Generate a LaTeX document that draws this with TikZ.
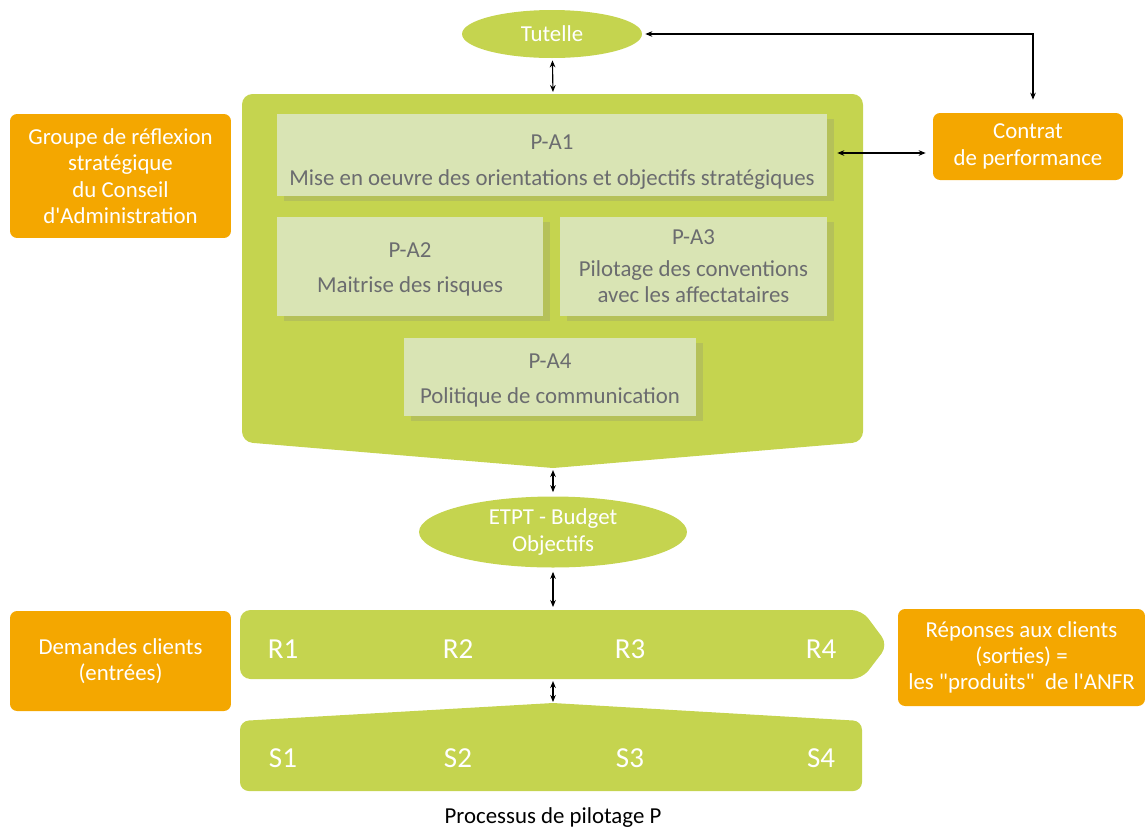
\documentclass[tikz,border=0pt]{standalone}
\usepackage{fontspec}
\setmainfont{Carlito}
\usetikzlibrary{arrows.meta,positioning,shapes.geometric,shadows}
\definecolor{leaf}{HTML}{C5D44F}
\definecolor{pale}{HTML}{D9E4B4}
\definecolor{amber}{HTML}{F4A700}
\definecolor{slate}{HTML}{6B6C6F}
\tikzset{
  oval/.style={ellipse, fill=leaf, text=white, align=center, inner sep=0pt},
  actbox/.style={fill=pale, text=slate, align=center, inner sep=0pt,
    drop shadow={shadow xshift=4pt, shadow yshift=-3pt, opacity=0.22}},
  sidebox/.style={fill=amber, text=white, align=center, rounded corners=4pt, inner sep=0pt},
  link/.style={{Stealth[length=4pt,width=3.2pt]}-{Stealth[length=4pt,width=3.2pt]}, line width=0.65pt},
  lbl/.style={text=white, font=\fontsize{16.5}{19}\selectfont},
}
\begin{document}
\begin{tikzpicture}[x=0.02cm,y=-0.02cm,font=\fontsize{13}{15}\selectfont]
\useasboundingbox (0,0) rectangle (1147,833);
%%% the piloting block with its pointed bottom
\fill[leaf] (553,468) [rounded corners=6pt] -- (242,442) -- (242,94) -- (863,94) -- (863,442) [sharp corners] -- cycle;
\coordinate (pilotTop) at (553,94);
\coordinate (pilotTip) at (553,468);
%%% the process bands R and S
\fill[leaf] (553,610) [rounded corners=6pt] -- (862,610) -- (888,645) -- (862,679) -- (240,679) -- (240,610) [sharp corners] -- cycle;
\fill[leaf] (553,703) [rounded corners=5pt] -- (862,721) -- (862,791) -- (240,791) -- (240,721) [sharp corners] -- cycle;
\coordinate (rTop) at (553,610);
\coordinate (rBot) at (553,679);
\coordinate (sTop) at (553,703);
\foreach \x/\n in {283/1,458/2,630/3,821/4}{
  \node[lbl] (r\n) at (\x,649) {R\n};
  \node[lbl] (s\n) at (\x,758) {S\n};
}
%%% ellipses
\node[oval, minimum width=3.6cm, minimum height=0.96cm] (tutelle) at (552,34) {Tutelle};
\node[oval, minimum width=5.36cm, minimum height=1.42cm] (etpt) at (553,532) {ETPT - Budget\\Objectifs};
%%% the four actions
\node[actbox, minimum width=11cm, minimum height=1.64cm] (pa1) at (552,155)
{\rule{0pt}{16.5pt}P-A1\\[5pt]Mise en oeuvre des orientations et objectifs stratégiques};
\node[actbox, minimum width=5.32cm, minimum height=1.98cm] (pa2) at (410,266.5)
{\rule{0pt}{12pt}P-A2\\[5pt]Maitrise des risques};
\node[actbox, minimum width=5.34cm, minimum height=1.98cm] (pa3) at (693.5,266.5)
{P-A3\\[3pt]Pilotage des conventions\\avec les affectataires};
\node[actbox, minimum width=5.84cm, minimum height=1.56cm] (pa4) at (550,377)
{\rule{0pt}{12pt}P-A4\\[5pt]Politique de communication};
%%% orange boxes
\node[sidebox, minimum width=3.8cm, minimum height=1.34cm] (contrat) at (1028,146.5) {Contrat\\de performance};
\node[sidebox, minimum width=4.42cm, minimum height=2.48cm] (groupe) at (120.5,176)
{Groupe de réflexion\\stratégique\\du Conseil\\d\textquotesingle Administration};
\node[sidebox, minimum width=4.42cm, minimum height=2cm] (demandes) at (120.5,661) {Demandes clients\\(entrées)};
\node[sidebox, minimum width=4.94cm, minimum height=1.94cm] (reponses) at (1021.5,657.5)
{Réponses aux clients\\(sorties) =\\les \textquotedbl produits\textquotedbl\ \ de l\textquotesingle ANFR};
\node (caption) at (553,818) {Processus de pilotage P};
%%% links
\draw[link, shorten <=0.04cm, shorten >=0.04cm] (tutelle) -- (pilotTop);
\draw[link, shorten <=0.06cm, shorten >=0.26cm] (tutelle.east) -| ([xshift=0.1cm]contrat.north);
\draw[link, shorten <=0.2cm, shorten >=0.14cm] ([yshift=0.04cm]pa1.east) -- ([yshift=0.04cm]pa1.east -| contrat.west);
\draw[link, shorten <=0.04cm, shorten >=0.08cm] (pilotTip) -- (etpt);
\draw[link, shorten <=0.08cm, shorten >=0.06cm] (etpt) -- (rTop);
\draw[link, shorten <=0.04cm, shorten >=0.02cm] (rBot) -- (sTop);
\end{tikzpicture}
\end{document}
